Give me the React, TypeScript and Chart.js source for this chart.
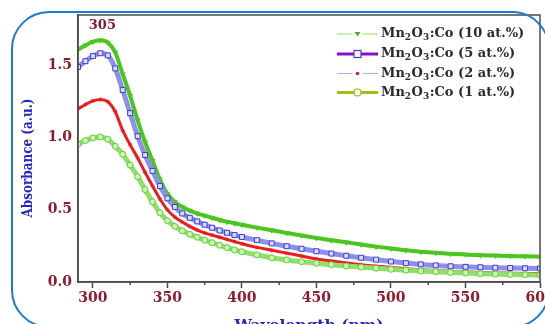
import React, { useEffect, useRef } from "react";
import { Chart, registerables } from "chart.js";

Chart.register(...registerables);

// ---- data ----
const wavelengths = [290, 295, 300, 305, 310, 315, 320, 325, 330, 335, 340, 345, 350, 355, 360, 365, 370, 375, 380, 385, 390, 395, 400, 410, 420, 430, 440, 450, 460, 470, 480, 490, 500, 510, 520, 530, 540, 550, 560, 570, 580, 590, 600];

const co10 = [1.61, 1.64, 1.665, 1.675, 1.66, 1.59, 1.44, 1.29, 1.12, 0.97, 0.84, 0.71, 0.61, 0.555, 0.52, 0.495, 0.475, 0.46, 0.445, 0.43, 0.418, 0.407, 0.397, 0.377, 0.358, 0.34, 0.322, 0.305, 0.29, 0.275, 0.26, 0.245, 0.232, 0.22, 0.21, 0.202, 0.196, 0.19, 0.186, 0.183, 0.18, 0.178, 0.175];
const co5 = [1.49, 1.53, 1.565, 1.585, 1.57, 1.48, 1.33, 1.17, 1.01, 0.88, 0.77, 0.665, 0.58, 0.52, 0.475, 0.445, 0.42, 0.397, 0.376, 0.357, 0.341, 0.326, 0.312, 0.29, 0.268, 0.248, 0.23, 0.213, 0.197, 0.182, 0.168, 0.155, 0.142, 0.131, 0.122, 0.115, 0.109, 0.105, 0.102, 0.099, 0.097, 0.095, 0.094];
const co2 = [1.2, 1.23, 1.255, 1.265, 1.25, 1.18, 1.05, 0.95, 0.86, 0.76, 0.665, 0.575, 0.5, 0.45, 0.415, 0.385, 0.36, 0.34, 0.325, 0.31, 0.295, 0.28, 0.265, 0.24, 0.22, 0.2, 0.18, 0.16, 0.145, 0.132, 0.12, 0.11, 0.1, 0.092, 0.085, 0.079, 0.074, 0.07, 0.066, 0.063, 0.061, 0.059, 0.058];
const co1 = [0.955, 0.98, 0.998, 1.005, 0.99, 0.94, 0.885, 0.81, 0.73, 0.64, 0.555, 0.48, 0.425, 0.385, 0.355, 0.33, 0.31, 0.29, 0.272, 0.255, 0.238, 0.222, 0.21, 0.188, 0.168, 0.153, 0.141, 0.13, 0.12, 0.111, 0.103, 0.095, 0.088, 0.082, 0.076, 0.071, 0.066, 0.062, 0.058, 0.055, 0.052, 0.05, 0.049];

const xTickValues = [300, 325, 350, 375, 400, 425, 450, 475, 500, 525, 550, 575, 600];
const xLabelValues = [300, 350, 400, 450, 500, 550, 600];
const yTickValues = [0, 0.5, 1.0, 1.5];

const legendSuffixes = ["10 at.%", "5 at.%", "2 at.%", "1 at.%"];
const peakLabel = "305";
const peakWavelength = 305;
const xTitle = "Wavelength (nm)";
const yTitle = "Absorbance (a.u.)";

const X_MIN = 290;
const X_MAX = 600;
const Y_MIN = 0;
const Y_MAX = 1.85;

const TICK_COLOR = "#8e1b2e";
const TITLE_COLOR = "#2424c8";
const AXIS_COLOR = "#4a4a4a";
const FONT = "'DejaVu Serif', serif";

const pts = (ys: number[]) => wavelengths.map((w, i) => ({ x: w, y: ys[i] }));

function drawFormula(ctx: CanvasRenderingContext2D, x: number, y: number, suffix: string) {
  const big = `bold 13px ${FONT}`;
  const small = `bold 9px ${FONT}`;
  ctx.fillStyle = "#2a2a2a";
  ctx.textAlign = "left";
  ctx.textBaseline = "middle";
  const parts: [string, boolean][] = [["Mn", false], ["2", true], ["O", false], ["3", true], [`:Co (${suffix})`, false]];
  for (const [t, sub] of parts) {
    ctx.font = sub ? small : big;
    ctx.fillText(t, x, sub ? y + 4 : y);
    x += ctx.measureText(t).width + (sub ? 0.5 : 0);
  }
}

const decorPlugin = {
  id: "decor",
  afterDraw(chart: any) {
    const { ctx, chartArea } = chart;
    const xs = chart.scales.x;
    ctx.save();
    // plot frame
    ctx.strokeStyle = AXIS_COLOR;
    ctx.lineWidth = 1.5;
    ctx.strokeRect(chartArea.left, chartArea.top, chartArea.right - chartArea.left, chartArea.bottom - chartArea.top);

    // minor ticks
    ctx.lineWidth = 1.5;
    for (const t of xs.ticks) {
      const v = t.value;
      if (!xLabelValues.includes(v)) {
        const px = xs.getPixelForValue(v);
        ctx.beginPath();
        ctx.moveTo(px, chartArea.bottom);
        ctx.lineTo(px, chartArea.bottom + 3);
        ctx.stroke();
      }
    }

    // peak annotation
    ctx.fillStyle = TICK_COLOR;
    ctx.font = `bold 13px ${FONT}`;
    ctx.textAlign = "center";
    ctx.textBaseline = "middle";
    ctx.fillText(peakLabel, xs.getPixelForValue(peakWavelength) + 2, chartArea.top + 11);

    // axis titles
    ctx.fillStyle = TITLE_COLOR;
    ctx.font = `bold 15.5px ${FONT}`;
    ctx.textAlign = "center";
    ctx.textBaseline = "alphabetic";
    ctx.fillText(xTitle, (chartArea.left + chartArea.right) / 2, 330);

    ctx.save();
    ctx.translate(28, 158);
    ctx.rotate(-Math.PI / 2);
    ctx.scale(1, 1.3);
    ctx.font = `bold 12px ${FONT}`;
    ctx.textAlign = "center";
    ctx.textBaseline = "middle";
    ctx.fillText(yTitle, 0, 0);
    ctx.restore();

    // legend
    const rows = [34, 54, 73.5, 92.5];
    const x0 = 337;
    const x1 = 378;
    const xc = 357.5;
    // row 1: 10 at.%
    ctx.strokeStyle = "#8fe060";
    ctx.lineWidth = 1.2;
    ctx.beginPath();
    ctx.moveTo(x0, rows[0]); ctx.lineTo(xc - 5, rows[0]);
    ctx.moveTo(xc + 5, rows[0]); ctx.lineTo(x1, rows[0]);
    ctx.stroke();
    ctx.fillStyle = "#3cb81a";
    ctx.beginPath();
    ctx.moveTo(xc - 3, rows[0] - 2); ctx.lineTo(xc + 3, rows[0] - 2); ctx.lineTo(xc, rows[0] + 2.5);
    ctx.closePath(); ctx.fill();
    // row 2: 5 at.%
    ctx.strokeStyle = "#8a10d0";
    ctx.lineWidth = 3;
    ctx.beginPath();
    ctx.moveTo(x0, rows[1]); ctx.lineTo(x1, rows[1]);
    ctx.stroke();
    ctx.fillStyle = "#ffffff";
    ctx.fillRect(xc - 3.5, rows[1] - 3.5, 7, 7);
    ctx.strokeStyle = "#5030d0";
    ctx.lineWidth = 1.2;
    ctx.strokeRect(xc - 3.5, rows[1] - 3.5, 7, 7);
    // row 3: 2 at.%
    ctx.strokeStyle = "#a8b2ea";
    ctx.lineWidth = 1.2;
    ctx.beginPath();
    ctx.moveTo(x0, rows[2]); ctx.lineTo(xc - 5, rows[2]);
    ctx.moveTo(xc + 5, rows[2]); ctx.lineTo(x1, rows[2]);
    ctx.stroke();
    ctx.fillStyle = "#e82020";
    ctx.beginPath(); ctx.arc(xc, rows[2], 1.8, 0, Math.PI * 2); ctx.fill();
    // row 4: 1 at.%
    ctx.strokeStyle = "#9cc40a";
    ctx.lineWidth = 3;
    ctx.beginPath();
    ctx.moveTo(x0, rows[3]); ctx.lineTo(x1, rows[3]);
    ctx.stroke();
    ctx.fillStyle = "#ffffff";
    ctx.beginPath(); ctx.arc(xc, rows[3], 3.5, 0, Math.PI * 2); ctx.fill();
    ctx.strokeStyle = "#8cc020";
    ctx.lineWidth = 1.2;
    ctx.stroke();

    legendSuffixes.forEach((s, i) => drawFormula(ctx, 381, rows[i], s));
    ctx.restore();
  },
};

export default function App() {
  const canvasRef = useRef<HTMLCanvasElement | null>(null);

  useEffect(() => {
    const canvas = canvasRef.current;
    if (!canvas) return;
    const chart = new Chart(canvas, {
      type: "line",
      data: {
        datasets: [
          {
            label: "Mn2O3:Co (1 at.%)",
            data: pts(co1),
            borderColor: "#8fe06a",
            borderWidth: 5,
            pointStyle: "circle",
            pointRadius: 3,
            pointBackgroundColor: "#cdf3b8",
            pointBorderColor: "#63cc35",
            pointBorderWidth: 1,
            cubicInterpolationMode: "monotone",
            fill: false,
          },
          {
            label: "Mn2O3:Co (2 at.%)",
            data: pts(co2),
            borderColor: "#ee1c1c",
            borderWidth: 3,
            pointStyle: "star",
            pointRadius: 2,
            pointBackgroundColor: "#ee1c1c",
            pointBorderColor: "#ee1c1c",
            pointBorderWidth: 1,
            cubicInterpolationMode: "monotone",
            fill: false,
          },
          {
            label: "Mn2O3:Co (5 at.%)",
            data: pts(co5),
            borderColor: "#8c90ec",
            borderWidth: 5,
            pointStyle: "rect",
            pointRadius: 3.5,
            pointBackgroundColor: "#dcdcff",
            pointBorderColor: "#3a3ad0",
            pointBorderWidth: 1,
            cubicInterpolationMode: "monotone",
            fill: false,
          },
          {
            label: "Mn2O3:Co (10 at.%)",
            data: pts(co10),
            borderColor: "#4cc61e",
            borderWidth: 4,
            pointStyle: "triangle",
            rotation: 180,
            pointRadius: 3.5,
            pointBackgroundColor: "#4cc61e",
            pointBorderColor: "#4cc61e",
            pointBorderWidth: 0,
            cubicInterpolationMode: "monotone",
            fill: false,
          },
        ],
      },
      options: {
        responsive: false,
        animation: false,
        layout: { padding: { top: 15, right: 5, left: 0, bottom: 0 } },
        plugins: { legend: { display: false }, tooltip: { enabled: false } },
        scales: {
          x: {
            type: "linear",
            min: X_MIN,
            max: X_MAX,
            afterBuildTicks: (s: any) => {
              s.ticks = xTickValues.map((v) => ({ value: v }));
            },
            afterFit: (s: any) => {
              s.height = 42;
              s.paddingLeft = 0;
              s.paddingRight = 0;
            },
            ticks: {
              autoSkip: false,
              maxRotation: 0,
              color: TICK_COLOR,
              font: { family: FONT, size: 14, weight: "bold" },
              padding: 2,
              callback: (v: any) => (xLabelValues.includes(Number(v)) ? String(v) : ""),
            },
            grid: {
              drawOnChartArea: false,
              tickLength: 6,
              tickWidth: 1.5,
              tickColor: (c: any) => (c.tick && xLabelValues.includes(c.tick.value) ? AXIS_COLOR : "rgba(0,0,0,0)"),
            },
            border: { color: AXIS_COLOR, width: 1.5 },
          },
          y: {
            min: Y_MIN,
            max: Y_MAX,
            afterBuildTicks: (s: any) => {
              s.ticks = yTickValues.map((v) => ({ value: v }));
            },
            afterFit: (s: any) => {
              s.width = 78;
              s.paddingTop = 0;
              s.paddingBottom = 0;
            },
            ticks: {
              color: TICK_COLOR,
              font: { family: FONT, size: 14, weight: "bold" },
              padding: 6,
              callback: (v: any) => Number(v).toFixed(1),
            },
            grid: { drawOnChartArea: false, drawTicks: false },
            border: { color: AXIS_COLOR, width: 1.5 },
          },
        },
      },
      plugins: [decorPlugin],
    } as any);
    return () => chart.destroy();
  }, []);

  return (
    <div style={{ position: "fixed", left: 0, top: 0, width: 545, height: 324, overflow: "hidden", background: "#fff" }}>
      <canvas ref={canvasRef} width={545} height={324} style={{ display: "block" }} />
      <div
        style={{
          position: "absolute",
          left: 11,
          top: 11,
          width: 539,
          height: 317,
          boxSizing: "border-box",
          border: "2px solid #1b7bd0",
          borderRadius: 38,
          pointerEvents: "none",
        }}
      />
    </div>
  );
}
